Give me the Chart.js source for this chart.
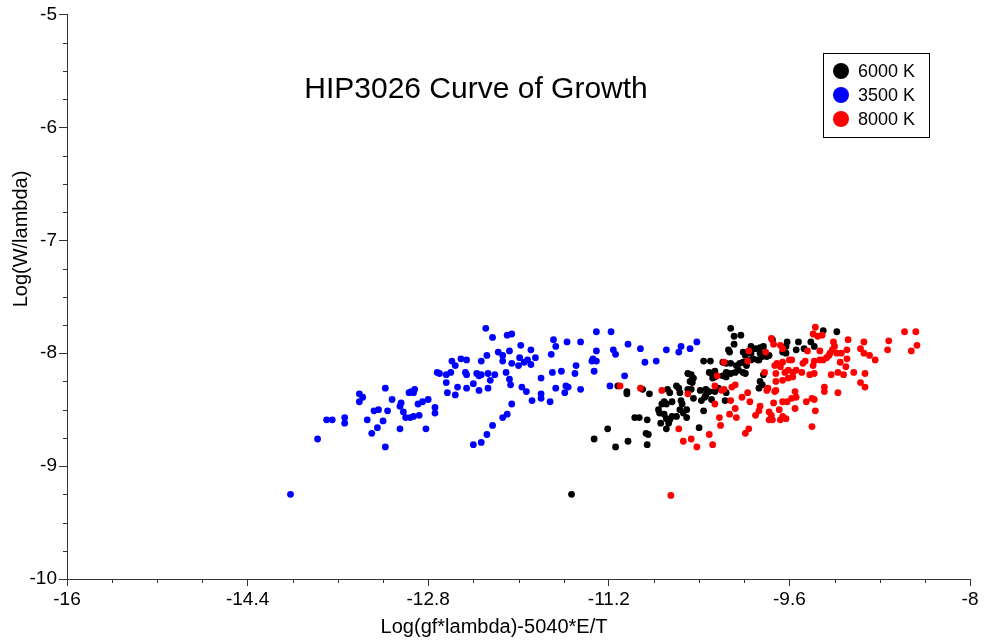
<!DOCTYPE html>
<html>
<head>
<meta charset="utf-8">
<script src="https://cdn.jsdelivr.net/npm/chart.js@4.4.1/dist/chart.umd.min.js"></script>
<style>
  body { margin: 0; background: #fff; }
</style>
</head>
<body>
<canvas id="cog" width="986" height="642"></canvas>
<script>
// values
const chartTitle = 'HIP3026 Curve of Growth';
const xTitle = 'Log(gf*lambda)-5040*E/T';
const yTitle = 'Log(W/lambda)';
const seriesLabels = ['6000 K', '3500 K', '8000 K'];
const seriesColors = ['#000000', '#0000ff', '#ff0000'];

const xRange = [-16, -8];   // major step 1.6, minor 0.4
const yRange = [-10, -5];   // major step 1, minor 0.25

const x3500 = [-14.02,-13.78,-13.70,-13.65,-13.54,-13.54,-13.41,-13.38,-13.41,-13.34,-13.28,-13.24,-13.25,-13.30,-13.18,-13.18,-13.20,-13.16,-13.12,-13.05,
  -13.04,-13.02,-13.05,-13.00,-12.96,-12.93,-12.88,-12.97,-12.95,-12.92,-12.93,-12.89,-12.85,-12.80,-12.82,-12.74,-12.74,-12.72,-12.70,-12.64,
  -12.60,-12.64,-12.63,-12.56,-12.54,-12.59,-12.56,-12.29,-12.23,-12.10,-12.06,-12.51,-12.46,-12.47,-12.46,-12.37,-12.35,-12.33,-12.27,-12.25,
  -12.21,-12.33,-12.28,-12.40,-12.46,-12.35,-12.27,-12.18,-12.14,-12.14,-12.08,-12.06,-12.11,-12.08,-12.07,-12.06,-12.10,-12.14,-12.23,-12.28,
  -12.33,-12.40,-11.98,-11.99,-12.00,-11.95,-11.92,-11.89,-11.89,-11.85,-11.97,-11.93,-11.88,-11.80,-11.80,-11.80,-11.72,-11.71,-11.69,-11.67,
  -11.70,-11.62,-11.67,-11.58,-11.56,-11.59,-11.57,-11.45,-11.49,-11.50,-11.45,-11.31,-11.18,-11.31,-11.35,-11.34,-11.31,-11.33,-11.16,-11.14,
  -11.19,-11.03,-10.92,-10.88,-10.78,-10.69,-10.58,-10.56,-10.48,-10.42,-11.06];
const y3500 = [-9.25,-8.76,-8.59,-8.59,-8.57,-8.62,-8.36,-8.39,-8.43,-8.59,-8.51,-8.50,-8.66,-8.71,-8.83,-8.31,-8.60,-8.51,-8.41,-8.47,
  -8.44,-8.52,-8.67,-8.57,-8.57,-8.56,-8.55,-8.35,-8.34,-8.32,-8.35,-8.45,-8.43,-8.41,-8.67,-8.48,-8.53,-8.17,-8.18,-8.19,
  -8.17,-8.26,-8.35,-8.37,-8.30,-8.07,-8.11,-7.78,-7.86,-7.84,-7.83,-8.05,-8.06,-8.17,-8.19,-8.18,-8.20,-8.19,-8.18,-8.24,
  -8.19,-8.07,-8.02,-8.27,-8.31,-8.33,-8.31,-7.99,-8.02,-8.07,-7.98,-8.09,-8.17,-8.23,-8.28,-8.45,-8.54,-8.57,-8.64,-8.72,
  -8.79,-8.81,-7.93,-8.04,-8.11,-8.08,-8.06,-8.10,-7.97,-8.04,-8.30,-8.34,-8.42,-8.22,-8.36,-8.40,-8.43,-8.01,-7.88,-7.94,
  -8.17,-8.16,-8.31,-8.29,-8.30,-8.35,-7.90,-7.90,-8.11,-8.18,-8.32,-7.81,-7.81,-7.98,-8.07,-8.05,-8.07,-8.16,-7.97,-8.01,
  -8.29,-7.92,-7.96,-8.08,-8.07,-7.97,-7.99,-7.94,-7.96,-7.90,-8.20];

const x6000 = [-11.21,-11.33,-11.14,-11.53,-11.12,-11.03,-10.86,-10.87,-10.85,-10.97,-10.93,-10.86,-11.04,-11.04,-10.90,-10.84,-10.74,-10.76,-10.75,-10.73,
  -10.71,-10.69,-10.64,-10.71,-10.69,-10.67,-10.66,-10.64,-10.60,-10.69,-10.68,-10.66,-10.60,-10.58,-10.57,-10.56,-10.55,-10.57,-10.54,-10.51,
  -10.51,-10.50,-10.47,-10.50,-10.47,-10.45,-10.48,-10.46,-10.39,-10.40,-10.36,-10.45,-10.38,-10.35,-10.34,-10.34,-10.31,-10.36,-10.30,-10.29,
  -10.31,-10.26,-10.28,-10.26,-10.26,-10.23,-10.29,-10.17,-10.16,-10.19,-10.16,-10.12,-10.09,-10.03,-10.09,-10.14,-10.13,-10.19,-10.16,-10.12,
  -10.07,-10.04,-10.16,-10.12,-10.08,-10.05,-10.01,-10.01,-9.99,-10.01,-9.94,-9.90,-9.86,-9.83,-9.94,-9.86,-9.84,-9.88,-9.62,-9.63,
  -9.66,-9.63,-9.99,-9.98,-9.86,-9.84,-9.30,-9.18,-9.52,-9.41,-9.38,-9.54,-9.47,-9.75,-9.78,-9.80,-9.94,-9.92,-9.87,-9.83,
  -9.87];
const y6000 = [-8.67,-8.76,-8.83,-9.25,-8.29,-8.78,-8.81,-8.71,-8.72,-8.57,-8.57,-8.59,-8.34,-8.36,-8.32,-8.36,-8.62,-8.50,-8.53,-8.45,
  -8.43,-8.45,-8.43,-8.54,-8.58,-8.62,-8.59,-8.56,-8.56,-8.67,-8.32,-8.35,-8.29,-8.31,-8.35,-8.42,-8.45,-8.50,-8.53,-8.50,
  -8.57,-8.32,-8.32,-8.18,-8.19,-8.22,-8.25,-8.26,-8.33,-8.66,-8.51,-8.40,-8.42,-8.39,-8.37,-8.32,-8.34,-8.07,-8.07,-8.18,
  -8.17,-8.16,-8.22,-8.21,-8.34,-8.31,-8.41,-8.42,-8.35,-8.20,-8.21,-7.78,-7.85,-7.84,-7.92,-7.97,-7.99,-8.08,-8.09,-8.09,
  -8.11,-8.09,-8.17,-8.18,-8.17,-8.15,-8.17,-7.99,-8.02,-8.08,-7.94,-7.96,-7.95,-7.94,-8.00,-8.00,-8.03,-8.06,-7.90,-7.94,
  -7.99,-8.00,-8.18,-8.11,-8.25,-8.28,-7.80,-7.81,-7.90,-7.90,-7.94,-7.97,-7.96,-7.88,-8.02,-8.03,-8.06,-8.05,-8.06,-8.19,
  -8.31];

const x8000 = [-11.10,-10.92,-10.73,-10.50,-10.65,-10.58,-10.54,-10.47,-10.42,-10.31,-10.28,-10.21,-10.22,-10.26,-10.13,-10.07,-10.08,-10.12,-9.99,-10.02,
  -10.26,-10.24,-10.20,-10.18,-10.11,-10.08,-10.18,-9.97,-9.96,-9.97,-9.96,-9.76,-9.74,-9.66,-9.68,-9.81,-9.66,-9.68,-9.60,-9.82,
  -9.72,-9.64,-9.61,-9.57,-9.54,-9.72,-9.66,-9.61,-9.80,-9.79,-9.73,-9.72,-9.55,-9.54,-9.58,-9.95,-9.86,-9.87,-9.90,-9.78,
  -9.76,-9.78,-9.75,-9.69,-9.66,-9.68,-9.63,-9.62,-9.66,-9.37,-9.39,-9.35,-9.31,-9.44,-9.33,-9.21,-9.20,-9.22,-9.24,-9.25,
  -9.27,-9.30,-9.33,-9.38,-9.18,-9.15,-9.14,-9.08,-9.09,-9.09,-9.10,-8.94,-8.97,-8.94,-8.89,-8.84,-8.72,-8.73,-9.58,-9.48,
  -9.46,-9.39,-9.49,-9.57,-9.42,-9.38,-9.23,-9.17,-9.12,-9.03,-8.93,-8.97,-8.93,-9.29,-9.29,-9.17,-9.45,-9.40,-9.38,-9.55,
  -9.37,-9.40,-8.58,-8.48,-8.47,-8.52,-9.74,-9.73,-9.71];
const y8000 = [-8.29,-8.31,-8.33,-8.36,-9.26,-8.67,-8.78,-8.76,-8.83,-8.72,-8.81,-8.64,-8.57,-8.45,-8.54,-8.57,-8.49,-8.42,-8.71,-8.39,
  -8.29,-8.20,-8.33,-8.32,-8.30,-8.28,-8.08,-8.07,-7.98,-8.35,-8.67,-7.87,-7.92,-7.96,-7.93,-7.99,-8.08,-8.12,-8.06,-8.17,
  -8.18,-8.17,-8.15,-8.17,-8.15,-8.25,-8.24,-8.22,-8.33,-8.31,-8.34,-8.33,-8.34,-8.39,-8.40,-8.43,-8.47,-8.51,-8.55,-8.52,
  -8.55,-8.59,-8.59,-8.50,-8.56,-8.59,-8.58,-8.43,-8.43,-7.77,-7.83,-7.85,-7.84,-7.98,-7.98,-7.90,-7.94,-7.97,-8.00,-8.02,
  -8.04,-8.06,-8.06,-8.07,-8.00,-8.08,-8.00,-7.88,-7.97,-8.05,-8.12,-7.90,-7.96,-8.00,-8.02,-8.06,-7.89,-7.97,-8.06,-8.09,
  -8.07,-8.11,-8.17,-8.21,-8.19,-8.18,-8.19,-8.17,-8.19,-8.17,-8.18,-8.26,-8.30,-8.30,-8.34,-8.35,-8.43,-8.40,-8.41,-8.49,
  -8.51,-8.65,-7.81,-7.81,-7.93,-7.98,-8.44,-8.11,-8.09];

const FONT = "'Liberation Sans', Arial, sans-serif";

function toPoints(xs, ys) {
    return xs.map((x, i) => ({ x: x, y: ys[i] }));
}

// extra bits the library doesn't place where the original has them:
// minor ticks, in-plot title, off-centre axis titles, boxed legend
const decorPlugin = {
    id: 'decor',
    afterDraw(chart) {
        const ctx = chart.ctx;
        const sx = chart.scales.x, sy = chart.scales.y;
        const area = chart.chartArea;
        ctx.save();
        ctx.strokeStyle = '#333';
        ctx.lineWidth = 1;

        for (let i = 1; i < 20; i++) {
            if (i % 4 === 0) continue;
            const py = Math.round(sy.getPixelForValue(yRange[0] + i * 0.25)) + 0.5;
            ctx.beginPath();
            ctx.moveTo(area.left - 4, py);
            ctx.lineTo(area.left, py);
            ctx.stroke();
        }
        for (let i = 1; i < 20; i++) {
            if (i % 4 === 0) continue;
            const px = Math.round(sx.getPixelForValue(xRange[0] + i * 0.4)) + 0.5;
            ctx.beginPath();
            ctx.moveTo(px, area.bottom);
            ctx.lineTo(px, area.bottom + 4);
            ctx.stroke();
        }

        ctx.fillStyle = '#000';
        ctx.textAlign = 'center';
        ctx.textBaseline = 'alphabetic';
        ctx.font = '30px ' + FONT;
        ctx.fillText(chartTitle, 476, 98);

        ctx.font = '20px ' + FONT;
        ctx.fillText(xTitle, 494, 633);

        ctx.save();
        ctx.translate(27, 239);
        ctx.rotate(-Math.PI / 2);
        ctx.fillText(yTitle, 0, 0);
        ctx.restore();

        // legend
        ctx.strokeStyle = '#000';
        ctx.strokeRect(823.5, 53.5, 106, 84);
        ctx.font = '18px ' + FONT;
        ctx.textAlign = 'left';
        ctx.textBaseline = 'middle';
        chart.data.datasets.forEach((ds, i) => {
            const cy = 71 + i * 24;
            ctx.fillStyle = ds.backgroundColor;
            ctx.beginPath();
            ctx.arc(841, cy, 8, 0, Math.PI * 2);
            ctx.fill();
            ctx.fillStyle = '#000';
            ctx.fillText(ds.label, 858, cy + 1);
        });
        ctx.restore();
    }
};

const ctx = document.getElementById('cog');

new Chart(ctx, {
    type: 'scatter',
    data: {
        datasets: [
            { label: seriesLabels[0], data: toPoints(x6000, y6000), backgroundColor: seriesColors[0], order: 1 },
            { label: seriesLabels[1], data: toPoints(x3500, y3500), backgroundColor: seriesColors[1], order: 2 },
            { label: seriesLabels[2], data: toPoints(x8000, y8000), backgroundColor: seriesColors[2], order: 0 }
        ]
    },
    options: {
        responsive: false,
        devicePixelRatio: 1,
        animation: false,
        events: [],
        layout: { padding: { left: 0, top: 14.5, right: 16, bottom: 0 } },
        elements: {
            point: { radius: 3.4, borderWidth: 0, hoverRadius: 3.4 }
        },
        plugins: {
            legend: { display: false },
            tooltip: { enabled: false }
        },
        scales: {
            x: {
                type: 'linear',
                position: 'bottom',
                min: xRange[0],
                max: xRange[1],
                afterFit: (s) => { s.height = 63; },
                ticks: {
                    stepSize: 1.6,
                    autoSkip: false,
                    maxRotation: 0,
                    padding: 2,
                    color: '#000',
                    font: { family: FONT, size: 19 },
                    callback: (v) => String(Number(v.toFixed(1)))
                },
                grid: { drawOnChartArea: false, tickLength: 7, color: '#333' },
                border: { color: '#333', width: 1 }
            },
            y: {
                type: 'linear',
                position: 'left',
                min: yRange[0],
                max: yRange[1],
                afterFit: (s) => { s.width = 67; },
                ticks: {
                    stepSize: 1,
                    padding: 2,
                    color: '#000',
                    font: { family: FONT, size: 19 },
                    callback: (v) => String(Number(v.toFixed(1)))
                },
                grid: { drawOnChartArea: false, tickLength: 8, color: '#333' },
                border: { color: '#333', width: 1 }
            }
        }
    },
    plugins: [decorPlugin]
});
</script>
</body>
</html>
